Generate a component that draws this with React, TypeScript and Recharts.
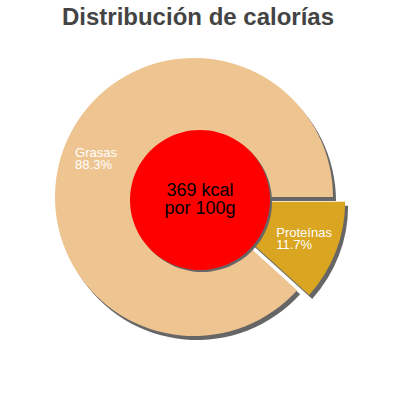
import React from 'react';
import { PieChart, Pie, Cell } from 'recharts';

const categories = ['Grasas', 'Proteínas'];
const shares = [88.3, 11.7];
const sliceColors = ['#EEC591', '#DAA520'];
const explodedIndex = 1;
const totalKcal = 369;
const centerLines = [`${totalKcal} kcal`, 'por 100g'];
const title = 'Distribución de calorías';

const data = categories.map((name, i) => ({ name, value: shares[i] }));
const centerData = [{ name: 'kcal', value: totalKcal }];

const CX = 194;
const CY = 197;
const R = 139;
const EXPLODE = 13;
const SHADOW_DX = 3;
const SHADOW_DY = 4;
const SHADOW = '#666666';
const RAD = Math.PI / 180;

const total = shares.reduce((a, b) => a + b, 0);
const before = shares.slice(0, explodedIndex).reduce((a, b) => a + b, 0);
const explodeMid = (360 * (before + shares[explodedIndex] / 2)) / total;
const EX = EXPLODE * Math.cos(explodeMid * RAD);
const EY = -EXPLODE * Math.sin(explodeMid * RAD);

let ctx: CanvasRenderingContext2D | null = null;
function measure(t: string, font: string) {
  if (!ctx) ctx = document.createElement('canvas').getContext('2d');
  if (!ctx) return t.length * 6.5;
  ctx.font = font;
  return ctx.measureText(t).width;
}

const LABEL_FONT = '13px "Liberation Sans", Arial, sans-serif';

function makeLabel(only: number) {
  return (props: any) => {
    const { cx, cy, midAngle, outerRadius, index, name, value } = props;
    if (index !== only) return null;
    const r = outerRadius * 0.755;
    const x = cx + r * Math.cos(-midAngle * RAD);
    const y = cy + r * Math.sin(-midAngle * RAD);
    const w = Math.max(measure(name, LABEL_FONT), measure(`${value}%`, LABEL_FONT));
    const x0 = x - w / 2;
    return (
      <text
        x={x0}
        y={y}
        fill="#ffffff"
        textAnchor="start"
        style={{ font: LABEL_FONT }}
      >
        <tspan x={x0} dy={-2}>{name}</tspan>
        <tspan x={x0} dy={12}>{`${value}%`}</tspan>
      </text>
    );
  };
}

const centerLabel = (props: any) => {
  const { cx, cy, index } = props;
  if (index !== 0) return null;
  return (
    <text
      x={cx}
      y={cy}
      fill="#000000"
      textAnchor="middle"
      style={{ font: '18px "Liberation Sans", Arial, sans-serif' }}
    >
      <tspan x={cx} dy={-4}>{centerLines[0]}</tspan>
      <tspan x={cx} dy={18}>{centerLines[1]}</tspan>
    </text>
  );
};

export default function App() {
  return (
    <div style={{ position: 'absolute', left: 0, top: 0, width: 400, height: 400, background: '#fff' }}>
      <div
        style={{
          position: 'absolute',
          left: 0,
          top: 0,
          width: 396,
          textAlign: 'center',
          font: 'bold 24px "Liberation Sans", Arial, sans-serif',
          color: '#444444',
          lineHeight: '34px',
          whiteSpace: 'nowrap',
        }}
      >
        {title}
      </div>
      <PieChart width={400} height={400} margin={{ top: 0, right: 0, bottom: 0, left: 0 }}>
        {/* shadows */}
        <Pie data={data} dataKey="value" cx={CX + SHADOW_DX} cy={CY + SHADOW_DY} outerRadius={R}
          startAngle={0} endAngle={360} stroke="none" isAnimationActive={false} label={false}>
          {data.map((d, i) => (
            <Cell key={d.name} fill={i === explodedIndex ? 'none' : SHADOW} />
          ))}
        </Pie>
        <Pie data={data} dataKey="value" cx={CX + EX + SHADOW_DX} cy={CY + EY + SHADOW_DY} outerRadius={R}
          startAngle={0} endAngle={360} stroke="none" isAnimationActive={false} label={false}>
          {data.map((d, i) => (
            <Cell key={d.name} fill={i === explodedIndex ? SHADOW : 'none'} />
          ))}
        </Pie>
        {/* slices */}
        <Pie data={data} dataKey="value" cx={CX} cy={CY} outerRadius={R}
          startAngle={0} endAngle={360} stroke="none" isAnimationActive={false}
          labelLine={false} label={makeLabel(0)}>
          {data.map((d, i) => (
            <Cell key={d.name} fill={i === explodedIndex ? 'none' : sliceColors[i]} />
          ))}
        </Pie>
        <Pie data={data} dataKey="value" cx={CX + EX} cy={CY + EY} outerRadius={R}
          startAngle={0} endAngle={360} stroke="none" isAnimationActive={false}
          labelLine={false} label={makeLabel(explodedIndex)}>
          {data.map((d, i) => (
            <Cell key={d.name} fill={i === explodedIndex ? sliceColors[i] : 'none'} />
          ))}
        </Pie>
        {/* center */}
        <Pie data={centerData} dataKey="value" cx={202} cy={202} outerRadius={70}
          startAngle={0} endAngle={360} stroke="none" fill={SHADOW} isAnimationActive={false} label={false} />
        <Pie data={centerData} dataKey="value" cx={200} cy={200} outerRadius={70}
          startAngle={0} endAngle={360} stroke="none" fill="#ff0000" isAnimationActive={false}
          labelLine={false} label={centerLabel} />
      </PieChart>
    </div>
  );
}
